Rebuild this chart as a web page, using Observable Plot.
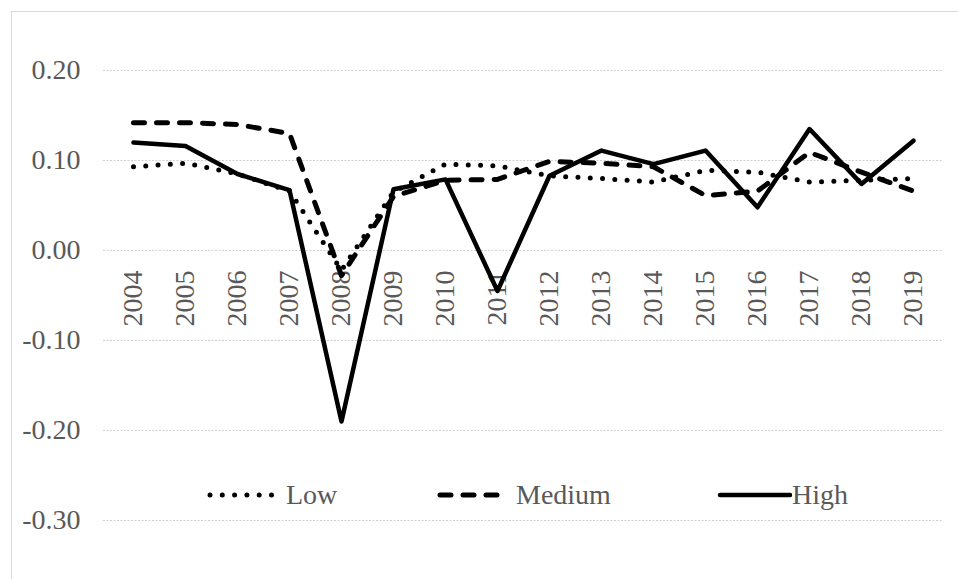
<!DOCTYPE html>
<html>
<head>
<meta charset="utf-8">
<script src="https://cdn.jsdelivr.net/npm/d3@7"></script>
<script src="https://cdn.jsdelivr.net/npm/@observablehq/plot@0.6"></script>
<style>
  html, body { margin: 0; padding: 0; background: #fff; overflow: hidden; }
  #wrap { position: relative; width: 958px; height: 579px; }
  #border { position: absolute; left: 11px; top: 11px; width: 1200px; height: 1200px; border: 1px solid #d9d9d9; box-sizing: border-box; pointer-events: none; }
  #legend { position: absolute; top: 477px; left: 0; width: 958px; height: 36px; font-family: "Liberation Serif", "Times New Roman", serif; font-size: 28px; color: #595959; }
  .item { position: absolute; display: flex; align-items: center; height: 36px; }
  .item svg { display: block; }
</style>
</head>
<body>
<div id="wrap">
  <div id="chart"></div>
  <div id="legend"></div>
  <div id="border"></div>
</div>
<script>
const years = ["2004","2005","2006","2007","2008","2009","2010","2011","2012","2013","2014","2015","2016","2017","2018","2019"];
const low    = [0.093, 0.097, 0.085, 0.066, -0.022, 0.065, 0.096, 0.094, 0.083, 0.080, 0.076, 0.089, 0.087, 0.076, 0.078, 0.080];
const medium = [0.142, 0.142, 0.140, 0.130, -0.028, 0.060, 0.078, 0.079, 0.099, 0.097, 0.093, 0.061, 0.066, 0.109, 0.087, 0.066];
const high   = [0.120, 0.116, 0.085, 0.067, -0.190, 0.068, 0.079, -0.045, 0.083, 0.111, 0.096, 0.111, 0.048, 0.135, 0.074, 0.122];
const yTicks = [0.20, 0.10, 0.00, -0.10, -0.20, -0.30];
const seriesNames = ["Low", "Medium", "High"];

const styles = {
  Low:    {strokeWidth: 5, strokeDasharray: "0,12.3", strokeLinecap: "round"},
  Medium: {strokeWidth: 5, strokeDasharray: "11,12", strokeLinecap: "round"},
  High:   {strokeWidth: 4.5, strokeDasharray: null, strokeLinecap: "round"}
};
const valuesBy = {Low: low, Medium: medium, High: high};
const rows = name => years.map((y, i) => ({year: y, value: valuesBy[name][i]}));

const serif = "'Liberation Serif', 'Times New Roman', serif";

const chart = Plot.plot({
  width: 958,
  height: 579,
  marginLeft: 103,
  marginRight: 16,
  marginTop: 70,
  marginBottom: 59,
  style: {fontFamily: serif, color: "#595959", background: "transparent"},
  x: {type: "point", domain: years, padding: 0.5, axis: null},
  y: {domain: [-0.30, 0.20], axis: null},
  marks: [
    Plot.ruleY(yTicks, {stroke: "#d0d0d0", strokeWidth: 1.2, strokeDasharray: "2,1.5"}),
    Plot.axisY(yTicks, {label: null, tickSize: 0, tickPadding: 23, tickFormat: d => d.toFixed(2), fontSize: 28, fill: "#595959"}),
    Plot.text(years, {x: d => d, y: () => 0, text: d => d, rotate: -90, textAnchor: "end", dy: 20, fontSize: 28, fill: "#595959"}),
    ...seriesNames.map(name => Plot.line(rows(name), {
      x: "year", y: "value", stroke: "#000",
      strokeLinejoin: "round",
      ...styles[name]
    }))
  ]
});
document.getElementById("chart").appendChild(chart);

// legend
const legendPos = {Low: 206, Medium: 436, High: 716};
const legend = document.getElementById("legend");
for (const name of seriesNames) {
  const item = document.createElement("div");
  item.className = "item";
  item.style.left = legendPos[name] + "px";
  const s = styles[name];
  const svg = d3.create("svg").attr("width", 76).attr("height", 36);
  svg.append("line").attr("x1", 4).attr("x2", name === "High" ? 74 : 69).attr("y1", 18).attr("y2", 18)
    .attr("stroke", "#000").attr("stroke-width", s.strokeWidth)
    .attr("stroke-dasharray", s.strokeDasharray).attr("stroke-linecap", s.strokeLinecap);
  item.appendChild(svg.node());
  const label = document.createElement("span");
  label.textContent = name;
  label.style.marginLeft = name === "High" ? "0px" : "4px";
  item.appendChild(label);
  legend.appendChild(item);
}
</script>
</body>
</html>
